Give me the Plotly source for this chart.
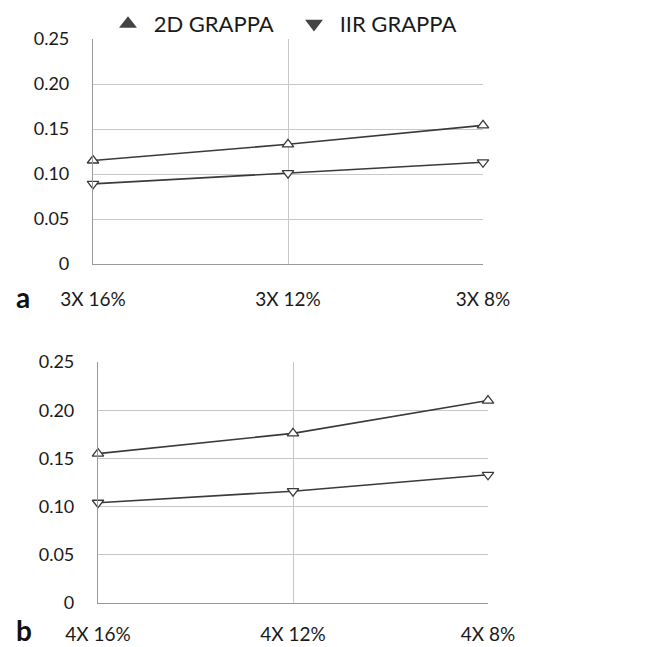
import plotly.graph_objects as go

cats_a = ["3X 16%", "3X 12%", "3X 8%"]
cats_b = ["4X 16%", "4X 12%", "4X 8%"]
grappa2d_a = [0.115, 0.133, 0.154]
iir_a = [0.089, 0.101, 0.113]
grappa2d_b = [0.155, 0.176, 0.210]
iir_b = [0.104, 0.116, 0.133]
yticks = [0, 0.05, 0.10, 0.15, 0.20, 0.25]
ytick_text = ["0", "0.05", "0.10", "0.15", "0.20", "0.25"]

W, H = 653, 647
FONT = "Lato"
LINE = "#3a3a3a"

fig = go.Figure()

def add_series(cats, y2d, yiir, xa, ya):
    xs = list(range(len(cats)))
    fig.add_trace(go.Scatter(x=xs, y=y2d, mode="lines+markers", xaxis=xa, yaxis=ya,
                             line=dict(color=LINE, width=1.6),
                             marker=dict(symbol="triangle-up", size=10, color="white",
                                         line=dict(color=LINE, width=1.3)),
                             cliponaxis=False, showlegend=False))
    fig.add_trace(go.Scatter(x=xs, y=yiir, mode="lines+markers", xaxis=xa, yaxis=ya,
                             line=dict(color=LINE, width=1.6),
                             marker=dict(symbol="triangle-down", size=10, color="white",
                                         line=dict(color=LINE, width=1.3)),
                             cliponaxis=False, showlegend=False))

add_series(cats_a, grappa2d_a, iir_a, "x", "y")
add_series(cats_b, grappa2d_b, iir_b, "x2", "y2")

# legend entries
fig.add_trace(go.Scatter(x=[None], y=[None], mode="markers", name="\u00a02D GRAPPA",
                         marker=dict(symbol="triangle-up", size=14, color="#444",
                                     line=dict(color="#444", width=1))))
fig.add_trace(go.Scatter(x=[None], y=[None], mode="markers", name="\u00a0IIR GRAPPA",
                         marker=dict(symbol="triangle-down", size=14, color="#444",
                                     line=dict(color="#444", width=1))))

def px_x(a, b):
    return [a / W, b / W]

def px_y(top, bottom):
    return [(H - bottom) / H, (H - top) / H]

common_x = dict(range=[0, 2], tickmode="array", tickvals=[0, 1, 2], automargin=False,
                showgrid=True, gridcolor="#c8c8c8", gridwidth=1,
                showline=True, linecolor="#999", linewidth=1.2,
                zeroline=False, ticks="", tickfont=dict(family=FONT, size=19, color="#1a1a1a"))
common_y = dict(range=[0, 0.25], tickmode="array", tickvals=yticks, ticktext=ytick_text,
                automargin=False,
                showgrid=True, gridcolor="#c8c8c8", gridwidth=1,
                showline=True, linecolor="#999", linewidth=1.2,
                zeroline=False, ticks="", ticklabelstandoff=19,
                tickfont=dict(family=FONT, size=18, color="#1a1a1a"))

fig.update_layout(
    width=W, height=H,
    margin=dict(l=0, r=0, t=0, b=0, autoexpand=False),
    paper_bgcolor="white", plot_bgcolor="white",
    xaxis=dict(common_x, domain=px_x(93, 483), ticktext=cats_a, anchor="y",
               ticklabelstandoff=18),
    yaxis=dict(common_y, domain=px_y(39, 264), anchor="x"),
    xaxis2=dict(common_x, domain=px_x(98, 488), ticktext=cats_b, anchor="y2",
                ticklabelstandoff=14),
    yaxis2=dict(common_y, domain=px_y(362, 603), anchor="x2"),
    legend=dict(orientation="h", x=108 / W, y=1 - 3 / H, xanchor="left", yanchor="top",
                font=dict(family=FONT, size=22, color="#1a1a1a"),
                entrywidth=141, entrywidthmode="pixels",
                itemsizing="constant", bgcolor="rgba(0,0,0,0)", tracegroupgap=0),
    annotations=[
        dict(text="<b>a</b>", x=14 / W, y=1 - 297 / H, xref="paper", yref="paper",
             xanchor="left", yanchor="middle", showarrow=False,
             font=dict(family=FONT, size=28, color="#111")),
        dict(text="<b>b</b>", x=14 / W, y=1 - 630 / H, xref="paper", yref="paper",
             xanchor="left", yanchor="middle", showarrow=False,
             font=dict(family=FONT, size=28, color="#111")),
    ],
)

fig.write_html("out.html", config={"displayModeBar": False},
               post_script="document.body.style.margin='0';document.body.style.overflow='hidden';")
